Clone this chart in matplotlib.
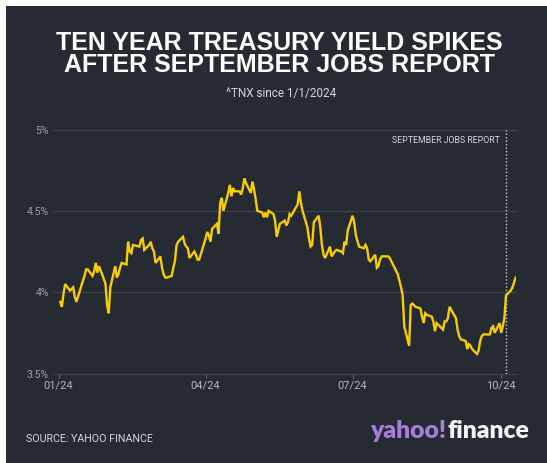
import matplotlib
matplotlib.use("Agg")
import matplotlib.pyplot as plt
import matplotlib.dates as mdates
from matplotlib.patches import Rectangle
import pandas as pd

# ^TNX daily closes, 2024
dates = [
    "2024-01-02", "2024-01-03", "2024-01-04", "2024-01-05", "2024-01-08", "2024-01-09",
    "2024-01-10", "2024-01-11", "2024-01-12", "2024-01-16", "2024-01-17", "2024-01-18",
    "2024-01-19", "2024-01-22", "2024-01-23", "2024-01-24", "2024-01-25", "2024-01-26",
    "2024-01-29", "2024-01-30", "2024-01-31", "2024-02-01", "2024-02-02", "2024-02-05",
    "2024-02-06", "2024-02-07", "2024-02-08", "2024-02-09", "2024-02-12", "2024-02-13",
    "2024-02-14", "2024-02-15", "2024-02-16", "2024-02-20", "2024-02-21", "2024-02-22",
    "2024-02-23", "2024-02-26", "2024-02-27", "2024-02-28", "2024-02-29", "2024-03-01",
    "2024-03-04", "2024-03-05", "2024-03-06", "2024-03-07", "2024-03-08", "2024-03-11",
    "2024-03-12", "2024-03-13", "2024-03-14", "2024-03-15", "2024-03-18", "2024-03-19",
    "2024-03-20", "2024-03-21", "2024-03-22", "2024-03-25", "2024-03-26", "2024-03-27",
    "2024-03-28", "2024-04-01", "2024-04-02", "2024-04-03", "2024-04-04", "2024-04-05",
    "2024-04-08", "2024-04-09", "2024-04-10", "2024-04-11", "2024-04-12", "2024-04-15",
    "2024-04-16", "2024-04-17", "2024-04-18", "2024-04-19", "2024-04-22", "2024-04-23",
    "2024-04-24", "2024-04-25", "2024-04-26", "2024-04-29", "2024-04-30", "2024-05-01",
    "2024-05-02", "2024-05-03", "2024-05-06", "2024-05-07", "2024-05-08", "2024-05-09",
    "2024-05-10", "2024-05-13", "2024-05-14", "2024-05-15", "2024-05-16", "2024-05-17",
    "2024-05-20", "2024-05-21", "2024-05-22", "2024-05-23", "2024-05-24", "2024-05-28",
    "2024-05-29", "2024-05-30", "2024-05-31", "2024-06-03", "2024-06-04", "2024-06-05",
    "2024-06-06", "2024-06-07", "2024-06-10", "2024-06-11", "2024-06-12", "2024-06-13",
    "2024-06-14", "2024-06-17", "2024-06-18", "2024-06-20", "2024-06-21", "2024-06-24",
    "2024-06-25", "2024-06-26", "2024-06-27", "2024-06-28", "2024-07-01", "2024-07-02",
    "2024-07-03", "2024-07-05", "2024-07-08", "2024-07-09", "2024-07-10", "2024-07-11",
    "2024-07-12", "2024-07-15", "2024-07-16", "2024-07-17", "2024-07-18", "2024-07-19",
    "2024-07-22", "2024-07-23", "2024-07-24", "2024-07-25", "2024-07-26", "2024-07-29",
    "2024-07-30", "2024-07-31", "2024-08-01", "2024-08-02", "2024-08-05", "2024-08-06",
    "2024-08-07", "2024-08-08", "2024-08-09", "2024-08-12", "2024-08-13", "2024-08-14",
    "2024-08-15", "2024-08-16", "2024-08-19", "2024-08-20", "2024-08-21", "2024-08-22",
    "2024-08-23", "2024-08-26", "2024-08-27", "2024-08-28", "2024-08-29", "2024-08-30",
    "2024-09-03", "2024-09-04", "2024-09-05", "2024-09-06", "2024-09-09", "2024-09-10",
    "2024-09-11", "2024-09-12", "2024-09-13", "2024-09-16", "2024-09-17", "2024-09-18",
    "2024-09-19", "2024-09-20", "2024-09-23", "2024-09-24", "2024-09-25", "2024-09-26",
    "2024-09-27", "2024-09-30", "2024-10-01", "2024-10-02", "2024-10-03", "2024-10-04",
    "2024-10-07", "2024-10-08", "2024-10-09", "2024-10-10",
]
yields = [
    3.94, 3.91, 3.99, 4.05, 4.01, 4.02,
    4.03, 3.97, 3.94, 4.07, 4.10, 4.14,
    4.14, 4.10, 4.13, 4.18, 4.12, 4.16,
    4.08, 4.05, 3.92, 3.87, 4.03, 4.16,
    4.09, 4.11, 4.15, 4.18, 4.17, 4.31,
    4.25, 4.24, 4.29, 4.28, 4.32, 4.33,
    4.26, 4.29, 4.31, 4.27, 4.25, 4.18,
    4.22, 4.15, 4.11, 4.09, 4.09, 4.10,
    4.15, 4.19, 4.29, 4.31, 4.34, 4.30,
    4.28, 4.27, 4.21, 4.25, 4.23, 4.20,
    4.20, 4.33, 4.37, 4.35, 4.31, 4.39,
    4.42, 4.36, 4.55, 4.58, 4.50, 4.61,
    4.66, 4.59, 4.64, 4.62, 4.62, 4.60,
    4.64, 4.70, 4.67, 4.61, 4.68, 4.63,
    4.57, 4.50, 4.49, 4.46, 4.49, 4.46,
    4.50, 4.48, 4.44, 4.34, 4.38, 4.42,
    4.44, 4.41, 4.43, 4.48, 4.47, 4.54,
    4.62, 4.55, 4.50, 4.40, 4.33, 4.28,
    4.29, 4.43, 4.47, 4.40, 4.29, 4.23,
    4.21, 4.28, 4.22, 4.25, 4.26, 4.25,
    4.24, 4.31, 4.29, 4.38, 4.47, 4.43,
    4.35, 4.28, 4.27, 4.29, 4.27, 4.20,
    4.19, 4.23, 4.15, 4.16, 4.20, 4.22,
    4.22, 4.22, 4.21, 4.19, 4.17, 4.11,
    4.07, 4.03, 3.98, 3.79, 3.67, 3.92,
    3.93, 3.92, 3.91, 3.90, 3.85, 3.81,
    3.87, 3.86, 3.85, 3.82, 3.76, 3.81,
    3.80, 3.77, 3.82, 3.82, 3.84, 3.91,
    3.84, 3.77, 3.73, 3.71, 3.70, 3.65,
    3.68, 3.67, 3.65, 3.62, 3.64, 3.70,
    3.73, 3.74, 3.74, 3.74, 3.78, 3.79,
    3.75, 3.81, 3.75, 3.79, 3.84, 3.98,
    4.01, 4.03, 4.06, 4.09,
]

y_ticks = [3.5, 4.0, 4.5, 5.0]
y_labels = ["3.5%", "4%", "4.5%", "5%"]
x_ticks = ["2024-01-01", "2024-04-01", "2024-07-01", "2024-10-01"]
event_date = "2024-10-04"
event_label = "SEPTEMBER JOBS REPORT"

BG = "#252a33"
LINE = "#f7cd00"
GRID = "#3b4048"

df = pd.DataFrame({"date": pd.to_datetime(dates), "yield": yields})

W, H = 547, 463
fig = plt.figure(figsize=(W / 100, H / 100), dpi=100, facecolor="white")
fig.patches.append(Rectangle((6 / W, 0), 1 - 6 / W, 1 - 6 / H,
                             transform=fig.transFigure, facecolor=BG,
                             edgecolor="none", zorder=-1))

ax = fig.add_axes([53 / W, (H - 373.5) / H, (515.7 - 53) / W, 244 / H])
ax.set_zorder(1)
ax.set_facecolor(BG)
ax.plot(df["date"], df["yield"], color=LINE, lw=1.7, solid_joinstyle="miter", zorder=3)

ax.set_ylim(3.5, 5.0)
ax.set_xlim(pd.Timestamp("2023-12-28 12:00"), pd.Timestamp("2024-10-10"))
for t in y_ticks:
    ax.axhline(t, color=GRID, lw=1.0, zorder=1, clip_on=False)

ax.set_yticks(y_ticks)
ax.set_yticklabels(y_labels)
ax.set_xticks(pd.to_datetime(x_ticks))
ax.xaxis.set_major_formatter(mdates.DateFormatter("%m/%y"))
ax.tick_params(axis="y", length=0, pad=3, labelsize=7.5, labelcolor="#9b9fa6")
ax.tick_params(axis="x", length=3, width=0.8, color="#5c6169", pad=2,
               labelsize=8, labelcolor="#b4b7bc")
for lab in ax.get_xticklabels() + ax.get_yticklabels():
    lab.set_fontfamily("Roboto")
for s in ax.spines.values():
    s.set_visible(False)

# jobs report marker
ev = pd.Timestamp(event_date)
ax.axvline(ev, color="#c9ccd1", lw=1.0, ls=(0, (1, 1.5)), zorder=2)
ax.annotate(event_label, xy=(ev, 4.93), xytext=(-4.5, 0), textcoords="offset points",
            ha="right", va="center", fontsize=6.3, color="#d4d6da", family="Roboto")

fig.text(279 / W, 1 - 43.5 / H, "TEN YEAR TREASURY YIELD SPIKES", ha="center", va="center",
         fontsize=18, fontweight="bold", color="white", family="Liberation Sans")
fig.text(279 / W, 1 - 65.5 / H, "AFTER SEPTEMBER JOBS REPORT", ha="center", va="center",
         fontsize=18, fontweight="bold", color="white", family="Liberation Sans")
fig.text(281 / W, 1 - 94 / H, "^TNX since 1/1/2024", ha="center", va="center",
         fontsize=8.5, color="#d5d7db", family="Roboto")

fig.text(26.5 / W, 1 - 439 / H, "SOURCE: YAHOO FINANCE", ha="left", va="center",
         fontsize=7.7, color="#d5d7db", family="Roboto")

# brand mark
t1 = fig.text(370 / W, 1 - 431 / H, "yahoo!", ha="left", va="center",
              fontsize=17.8, fontweight="heavy", color="#a67dd8", family="Lato")
fig.canvas.draw()
bb = t1.get_window_extent()
fig.text(bb.x1 / W + 1 / W, 1 - 431 / H, "finance", ha="left", va="center",
         fontsize=17.8, fontweight="heavy", color="#f4f4f6", family="Lato")

fig.savefig("out.png", dpi=100, facecolor=fig.get_facecolor())
